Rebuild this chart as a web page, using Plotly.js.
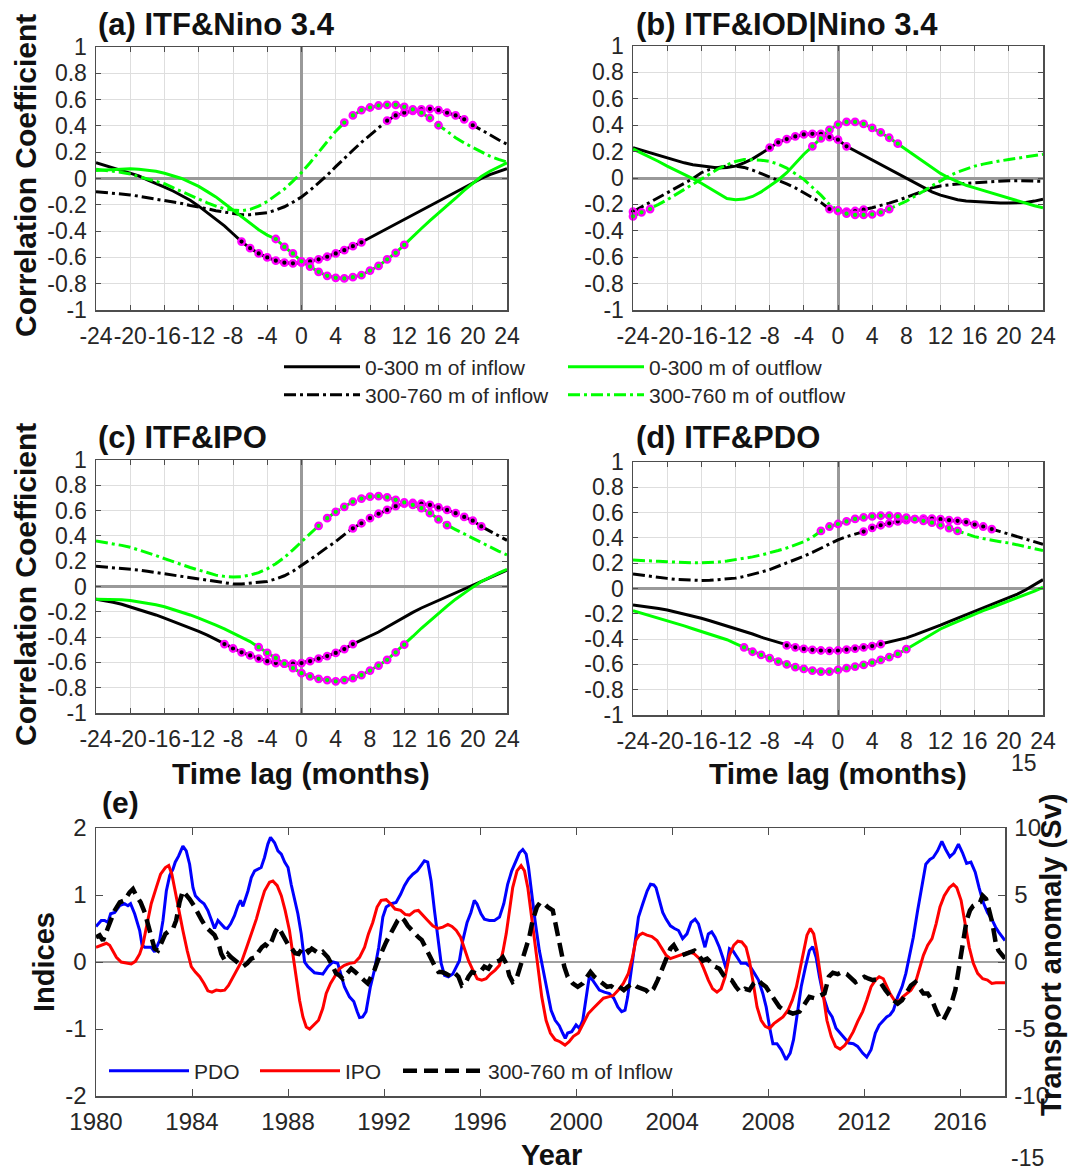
<!DOCTYPE html>
<html><head><meta charset="utf-8">
<script src="https://cdn.plot.ly/plotly-3.0.1.min.js"></script>
<style>html,body{margin:0;padding:0;background:#fff}#chart{width:1070px;height:1174px}</style>
</head><body><div id="chart"></div>
<script>
// ---------- DATA ----------
const lags = [-24,-23,-22,-21,-20,-19,-18,-17,-16,-15,-14,-13,-12,-11,-10,-9,-8,-7,-6,-5,-4,-3,-2,-1,0,1,2,3,4,5,6,7,8,9,10,11,12,13,14,15,16,17,18,19,20,21,22,23,24];
const lagTickVals = [-24,-20,-16,-12,-8,-4,0,4,8,12,16,20,24];
const lagTickText = ['-24','-20','-16','-12','-8','-4','0','4','8','12','16','20','24'];
const corrTickVals = [-1,-0.8,-0.6,-0.4,-0.2,0,0.2,0.4,0.6,0.8,1];
const corrTickText = ['-1','-0.8','-0.6','-0.4','-0.2','0','0.2','0.4','0.6','0.8','1'];
const seriesNames = ['0-300 m of inflow','300-760 m of inflow','0-300 m of outflow','300-760 m of outflow'];
const panelTitles = ['(a) ITF&Nino 3.4','(b) ITF&IOD|Nino 3.4','(c) ITF&IPO','(d) ITF&PDO','(e)'];

// (a) ITF & Nino 3.4
const a_in0 = [0.12,0.10,0.085,0.065,0.04,0.02,-0.01,-0.035,-0.065,-0.095,-0.13,-0.165,-0.21,-0.26,-0.31,-0.36,-0.42,-0.48,-0.53,-0.57,-0.60,-0.625,-0.64,-0.645,-0.64,-0.63,-0.615,-0.595,-0.57,-0.545,-0.515,-0.485,-0.45,-0.42,-0.38,-0.345,-0.31,-0.28,-0.245,-0.21,-0.175,-0.14,-0.105,-0.07,-0.035,0.0,0.03,0.055,0.075];
const a_out0 = [0.06,0.065,0.07,0.075,0.075,0.07,0.065,0.055,0.04,0.02,0.0,-0.03,-0.06,-0.10,-0.14,-0.19,-0.24,-0.29,-0.34,-0.39,-0.43,-0.46,-0.52,-0.57,-0.63,-0.67,-0.71,-0.74,-0.755,-0.76,-0.75,-0.735,-0.70,-0.665,-0.615,-0.565,-0.505,-0.44,-0.38,-0.32,-0.265,-0.205,-0.15,-0.09,-0.035,0.015,0.055,0.09,0.12];
const a_in3 = [-0.10,-0.105,-0.11,-0.12,-0.125,-0.135,-0.145,-0.155,-0.165,-0.18,-0.19,-0.205,-0.215,-0.23,-0.245,-0.255,-0.265,-0.275,-0.275,-0.27,-0.26,-0.24,-0.215,-0.18,-0.14,-0.09,-0.035,0.025,0.09,0.155,0.215,0.275,0.33,0.385,0.44,0.48,0.50,0.515,0.525,0.53,0.52,0.50,0.48,0.45,0.405,0.37,0.33,0.295,0.26];
const a_out3 = [0.07,0.065,0.055,0.045,0.035,0.015,-0.005,-0.025,-0.04,-0.07,-0.10,-0.13,-0.155,-0.185,-0.21,-0.23,-0.24,-0.245,-0.235,-0.21,-0.175,-0.13,-0.08,-0.02,0.045,0.12,0.20,0.28,0.36,0.425,0.48,0.52,0.54,0.555,0.56,0.56,0.545,0.525,0.50,0.46,0.405,0.36,0.31,0.27,0.235,0.20,0.17,0.145,0.125];
const sig_a_in0 = [[-7,7]], sig_a_out0 = [[-3,12]], sig_a_in3 = [[10,20]], sig_a_out3 = [[5,16]];

// (b) ITF & IOD | Nino 3.4
const b_in0 = [0.23,0.21,0.19,0.17,0.155,0.135,0.115,0.10,0.09,0.08,0.075,0.08,0.09,0.115,0.145,0.185,0.23,0.27,0.295,0.315,0.33,0.335,0.335,0.31,0.29,0.24,0.205,0.17,0.135,0.10,0.065,0.03,-0.005,-0.04,-0.075,-0.105,-0.13,-0.15,-0.165,-0.175,-0.18,-0.185,-0.19,-0.19,-0.19,-0.19,-0.185,-0.175,-0.16];
const b_out0 = [0.22,0.19,0.16,0.125,0.09,0.06,0.03,-0.005,-0.04,-0.08,-0.12,-0.155,-0.165,-0.16,-0.14,-0.105,-0.06,-0.015,0.04,0.11,0.18,0.24,0.30,0.365,0.405,0.425,0.425,0.41,0.38,0.345,0.305,0.26,0.215,0.165,0.12,0.075,0.035,0.0,-0.03,-0.055,-0.075,-0.095,-0.11,-0.13,-0.15,-0.17,-0.19,-0.21,-0.225];
const b_in3 = [-0.255,-0.22,-0.185,-0.15,-0.115,-0.075,-0.04,-0.005,0.04,0.065,0.08,0.09,0.09,0.08,0.06,0.035,0.01,-0.015,-0.045,-0.075,-0.11,-0.145,-0.185,-0.235,-0.25,-0.255,-0.25,-0.24,-0.225,-0.21,-0.19,-0.17,-0.145,-0.12,-0.095,-0.075,-0.06,-0.05,-0.045,-0.04,-0.035,-0.03,-0.025,-0.02,-0.02,-0.02,-0.02,-0.02,-0.025];
const b_out3 = [-0.29,-0.26,-0.235,-0.20,-0.165,-0.125,-0.085,-0.045,-0.005,0.035,0.07,0.10,0.125,0.14,0.14,0.135,0.125,0.105,0.075,0.035,-0.01,-0.07,-0.13,-0.20,-0.245,-0.27,-0.28,-0.28,-0.275,-0.26,-0.235,-0.205,-0.175,-0.14,-0.10,-0.06,-0.02,0.015,0.045,0.07,0.09,0.105,0.12,0.13,0.14,0.15,0.16,0.17,0.18];
const sig_b_in0 = [[-8,1]], sig_b_out0 = [[-3,7]], sig_b_in3 = [[-24,-24],[-1,3]], sig_b_out3 = [[-24,-22],[0,6]];

// (c) ITF & IPO
const c_in0 = [-0.10,-0.11,-0.125,-0.14,-0.16,-0.18,-0.20,-0.225,-0.25,-0.275,-0.30,-0.33,-0.355,-0.385,-0.42,-0.455,-0.49,-0.52,-0.545,-0.57,-0.59,-0.605,-0.61,-0.61,-0.605,-0.59,-0.57,-0.55,-0.525,-0.495,-0.455,-0.425,-0.395,-0.36,-0.32,-0.28,-0.24,-0.205,-0.17,-0.14,-0.105,-0.075,-0.045,-0.015,0.01,0.04,0.07,0.10,0.13];
const c_out0 = [-0.10,-0.10,-0.10,-0.105,-0.11,-0.12,-0.13,-0.145,-0.16,-0.18,-0.20,-0.225,-0.25,-0.275,-0.305,-0.335,-0.37,-0.40,-0.435,-0.48,-0.525,-0.565,-0.61,-0.645,-0.685,-0.71,-0.73,-0.74,-0.75,-0.74,-0.725,-0.70,-0.665,-0.625,-0.58,-0.52,-0.46,-0.395,-0.33,-0.27,-0.21,-0.155,-0.10,-0.05,-0.005,0.04,0.075,0.105,0.135];
const c_in3 = [0.16,0.155,0.15,0.145,0.14,0.13,0.12,0.11,0.10,0.09,0.08,0.065,0.055,0.045,0.035,0.025,0.02,0.02,0.025,0.03,0.04,0.06,0.085,0.12,0.165,0.21,0.26,0.31,0.355,0.41,0.46,0.50,0.54,0.575,0.605,0.635,0.655,0.66,0.655,0.645,0.625,0.605,0.58,0.55,0.52,0.475,0.44,0.40,0.365];
const c_out3 = [0.36,0.35,0.34,0.325,0.31,0.29,0.27,0.245,0.22,0.195,0.175,0.15,0.13,0.11,0.09,0.08,0.075,0.078,0.09,0.11,0.14,0.18,0.23,0.29,0.355,0.42,0.48,0.54,0.59,0.63,0.67,0.695,0.71,0.715,0.705,0.685,0.665,0.645,0.62,0.58,0.53,0.485,0.45,0.415,0.38,0.345,0.31,0.28,0.25];
const sig_c_in0 = [[-9,6]], sig_c_out0 = [[-5,12]], sig_c_in3 = [[6,21]], sig_c_out3 = [[2,17]];

// (d) ITF & PDO
const d_in0 = [-0.13,-0.138,-0.147,-0.158,-0.17,-0.185,-0.20,-0.218,-0.235,-0.255,-0.275,-0.295,-0.315,-0.34,-0.36,-0.385,-0.405,-0.43,-0.45,-0.465,-0.478,-0.485,-0.49,-0.493,-0.49,-0.483,-0.475,-0.465,-0.455,-0.44,-0.425,-0.408,-0.39,-0.367,-0.343,-0.318,-0.29,-0.262,-0.235,-0.207,-0.18,-0.155,-0.128,-0.10,-0.075,-0.045,-0.01,0.03,0.07];
const d_out0 = [-0.175,-0.195,-0.215,-0.232,-0.25,-0.272,-0.295,-0.318,-0.34,-0.362,-0.385,-0.405,-0.435,-0.465,-0.50,-0.525,-0.55,-0.578,-0.60,-0.622,-0.636,-0.649,-0.657,-0.657,-0.644,-0.63,-0.617,-0.604,-0.586,-0.565,-0.543,-0.517,-0.48,-0.44,-0.40,-0.36,-0.32,-0.29,-0.26,-0.23,-0.20,-0.175,-0.15,-0.125,-0.10,-0.075,-0.05,-0.02,0.01];
const d_in3 = [0.115,0.105,0.095,0.088,0.08,0.072,0.067,0.063,0.063,0.065,0.07,0.075,0.082,0.095,0.11,0.13,0.15,0.175,0.20,0.228,0.255,0.285,0.32,0.355,0.385,0.41,0.43,0.45,0.48,0.50,0.515,0.53,0.54,0.548,0.552,0.552,0.548,0.54,0.535,0.525,0.505,0.49,0.47,0.45,0.43,0.41,0.39,0.37,0.35];
const d_out3 = [0.225,0.22,0.218,0.215,0.212,0.208,0.205,0.203,0.203,0.205,0.21,0.218,0.227,0.24,0.25,0.265,0.28,0.30,0.32,0.345,0.37,0.405,0.455,0.49,0.51,0.53,0.55,0.562,0.57,0.575,0.575,0.57,0.56,0.548,0.535,0.52,0.50,0.478,0.455,0.43,0.41,0.395,0.38,0.37,0.36,0.345,0.33,0.315,0.30];
const sig_d_in0 = [[-6,5]], sig_d_out0 = [[-11,8]], sig_d_in3 = [[3,18]], sig_d_out3 = [[-2,14]];

// (e) time series
const yearTickVals = [1980,1984,1988,1992,1996,2000,2004,2008,2012,2016];
const idxTickVals = [-2,-1,0,1,2];
const idxTickText = ['-2','-1','0','1','2'];
const svTickVals = [-10,-5,0,5,10];
const svTickText = ['-10','-5','0','5','10'];

const pdoYear = [1980.0,1980.22,1980.36,1980.5,1980.61,1980.78,1980.99,1981.19,1981.33,1981.44,1981.61,1981.82,1981.92,1982.03,1982.3,1982.44,1982.65,1982.79,1982.93,1983.07,1983.21,1983.3,1983.44,1983.62,1983.76,1983.9,1984.04,1984.14,1984.32,1984.5,1984.66,1984.83,1984.94,1985.08,1985.36,1985.47,1985.61,1985.77,1985.91,1986.02,1986.12,1986.33,1986.47,1986.61,1986.74,1986.88,1987.02,1987.16,1987.27,1987.44,1987.58,1987.72,1987.86,1988.0,1988.13,1988.27,1988.41,1988.55,1988.69,1988.83,1988.97,1989.1,1989.31,1989.45,1989.66,1989.87,1990.07,1990.35,1990.56,1990.74,1990.88,1990.98,1991.11,1991.25,1991.43,1991.6,1991.78,1991.95,1992.09,1992.3,1992.5,1992.69,1992.85,1993.02,1993.2,1993.38,1993.54,1993.68,1993.82,1993.96,1994.1,1994.24,1994.38,1994.52,1994.68,1994.86,1995.14,1995.28,1995.46,1995.62,1995.76,1995.87,1996.04,1996.18,1996.39,1996.6,1996.81,1996.99,1997.15,1997.32,1997.5,1997.64,1997.78,1997.92,1998.02,1998.16,1998.29,1998.47,1998.61,1998.79,1998.96,1999.13,1999.3,1999.44,1999.55,1999.65,1999.82,2000.0,2000.14,2000.28,2000.41,2000.55,2000.69,2000.83,2000.97,2001.18,2001.39,2001.57,2001.74,2001.9,2002.04,2002.15,2002.32,2002.46,2002.6,2002.78,2002.96,2003.1,2003.24,2003.33,2003.47,2003.61,2003.75,2003.93,2004.1,2004.27,2004.44,2004.62,2004.79,2004.96,2005.1,2005.24,2005.37,2005.51,2005.65,2005.79,2005.97,2006.11,2006.25,2006.39,2006.53,2006.71,2006.87,2007.08,2007.26,2007.43,2007.6,2007.78,2007.92,2008.06,2008.2,2008.37,2008.55,2008.75,2008.92,2009.06,2009.2,2009.38,2009.56,2009.72,2009.86,2010.0,2010.14,2010.31,2010.49,2010.67,2010.83,2011.0,2011.18,2011.36,2011.55,2011.73,2011.94,2012.11,2012.29,2012.47,2012.63,2012.8,2012.94,2013.08,2013.22,2013.4,2013.58,2013.74,2013.88,2014.05,2014.23,2014.41,2014.57,2014.74,2014.88,2015.06,2015.24,2015.4,2015.57,2015.75,2015.93,2016.1,2016.27,2016.45,2016.63,2016.79,2016.96,2017.14,2017.32,2017.48,2017.6,2017.87];
const pdoVal = [0.53,0.62,0.62,0.59,0.72,0.74,0.84,0.87,0.84,0.87,0.72,0.47,0.25,0.22,0.22,0.15,0.32,0.62,1.06,1.29,1.39,1.49,1.58,1.73,1.66,1.46,1.11,0.99,0.92,0.87,0.77,0.59,0.50,0.62,0.51,0.50,0.57,0.69,0.84,0.92,0.83,1.06,1.26,1.36,1.39,1.41,1.56,1.76,1.86,1.78,1.66,1.61,1.49,1.41,1.16,0.92,0.72,0.42,0.0,-0.07,-0.12,-0.16,-0.17,-0.18,-0.07,0.0,-0.02,-0.37,-0.52,-0.59,-0.74,-0.83,-0.82,-0.74,-0.37,-0.12,0.22,0.67,0.82,0.87,0.89,1.01,1.14,1.24,1.31,1.36,1.44,1.51,1.49,1.21,0.77,0.37,-0.02,-0.2,-0.22,-0.18,0.02,0.32,0.59,0.74,0.92,0.87,0.72,0.64,0.62,0.62,0.67,0.87,1.16,1.36,1.51,1.63,1.68,1.61,1.41,0.97,0.62,0.17,-0.07,-0.42,-0.72,-0.87,-0.95,-1.06,-1.14,-1.06,-1.04,-0.94,-0.99,-0.87,-0.57,-0.22,-0.27,-0.35,-0.42,-0.45,-0.47,-0.54,-0.67,-0.74,-0.72,-0.52,-0.07,0.32,0.67,0.87,1.06,1.16,1.15,1.11,0.92,0.74,0.64,0.54,0.50,0.47,0.35,0.42,0.59,0.64,0.57,0.37,0.22,0.42,0.45,0.37,0.22,0.07,-0.1,0.2,0.17,0.07,-0.02,-0.02,-0.07,-0.17,-0.27,-0.47,-0.67,-0.97,-1.22,-1.22,-1.31,-1.46,-1.36,-1.16,-0.82,-0.37,-0.07,0.17,0.23,0.07,-0.22,-0.52,-0.72,-0.82,-0.99,-1.06,-1.14,-1.21,-1.22,-1.26,-1.36,-1.42,-1.31,-1.06,-0.94,-0.87,-0.82,-0.79,-0.72,-0.52,-0.37,-0.17,0.07,0.37,0.77,1.16,1.46,1.53,1.56,1.66,1.80,1.68,1.57,1.63,1.76,1.63,1.47,1.49,1.34,1.11,0.89,0.74,0.64,0.52,0.45,0.32];

const ipoYear = [1980.0,1980.22,1980.43,1980.57,1980.71,1980.85,1981.05,1981.26,1981.47,1981.64,1981.82,1981.96,1982.14,1982.3,1982.51,1982.69,1982.89,1983.03,1983.16,1983.3,1983.44,1983.62,1983.8,1983.97,1984.14,1984.32,1984.5,1984.66,1984.83,1985.01,1985.19,1985.36,1985.52,1985.7,1985.88,1986.08,1986.26,1986.47,1986.68,1986.86,1987.02,1987.23,1987.37,1987.55,1987.72,1987.88,1988.06,1988.2,1988.34,1988.48,1988.62,1988.76,1988.9,1989.08,1989.27,1989.45,1989.59,1989.77,1989.96,1990.14,1990.35,1990.56,1990.77,1990.98,1991.19,1991.35,1991.53,1991.71,1991.88,1992.09,1992.27,1992.46,1992.69,1992.88,1993.06,1993.27,1993.43,1993.62,1993.82,1994.03,1994.24,1994.45,1994.66,1994.83,1995.01,1995.19,1995.35,1995.52,1995.7,1995.88,1996.07,1996.25,1996.43,1996.63,1996.81,1996.95,1997.09,1997.22,1997.36,1997.54,1997.71,1997.85,1997.99,1998.13,1998.31,1998.45,1998.57,1998.75,1998.93,1999.13,1999.33,1999.54,1999.71,1999.89,2000.1,2000.3,2000.51,2000.72,2000.93,2001.14,2001.35,2001.55,2001.76,2001.97,2002.18,2002.35,2002.49,2002.63,2002.77,2002.95,2003.16,2003.37,2003.58,2003.75,2003.93,2004.1,2004.3,2004.51,2004.72,2004.93,2005.14,2005.32,2005.51,2005.69,2005.87,2006.04,2006.21,2006.39,2006.57,2006.74,2006.9,2007.08,2007.22,2007.36,2007.54,2007.71,2007.88,2008.06,2008.24,2008.43,2008.62,2008.83,2009.01,2009.18,2009.34,2009.48,2009.62,2009.76,2009.9,2010.04,2010.18,2010.31,2010.45,2010.63,2010.81,2011.0,2011.18,2011.36,2011.55,2011.73,2011.94,2012.11,2012.29,2012.47,2012.63,2012.8,2012.94,2013.08,2013.26,2013.44,2013.61,2013.77,2013.95,2014.13,2014.3,2014.47,2014.65,2014.83,2015.0,2015.16,2015.34,2015.55,2015.72,2015.86,2016.04,2016.22,2016.38,2016.55,2016.73,2016.94,2017.14,2017.32,2017.49,2017.87];
const ipoVal = [0.22,0.25,0.28,0.25,0.15,0.07,0.0,-0.01,-0.03,0.01,0.12,0.27,0.57,0.87,1.11,1.31,1.41,1.44,1.31,1.04,0.77,0.47,0.17,-0.07,-0.15,-0.22,-0.32,-0.43,-0.45,-0.42,-0.43,-0.42,-0.35,-0.23,-0.1,0.02,0.2,0.42,0.64,0.87,1.06,1.19,1.21,1.14,0.99,0.77,0.47,0.12,-0.22,-0.57,-0.82,-0.97,-1.0,-0.94,-0.87,-0.69,-0.47,-0.32,-0.2,-0.1,-0.05,-0.02,-0.01,0.07,0.22,0.42,0.59,0.82,0.92,0.93,0.87,0.79,0.77,0.71,0.70,0.76,0.77,0.69,0.62,0.54,0.50,0.52,0.56,0.53,0.47,0.37,0.20,0.02,-0.12,-0.25,-0.27,-0.25,-0.18,-0.12,-0.05,0.15,0.42,0.77,1.11,1.36,1.44,1.36,1.11,0.72,0.22,-0.15,-0.52,-0.87,-1.06,-1.16,-1.19,-1.24,-1.19,-1.11,-1.06,-0.92,-0.77,-0.69,-0.62,-0.54,-0.52,-0.5,-0.42,-0.32,-0.17,0.07,0.32,0.4,0.43,0.4,0.38,0.32,0.2,0.1,0.05,0.07,0.1,0.12,0.15,0.12,0.05,-0.1,-0.27,-0.4,-0.45,-0.4,-0.22,0.1,0.25,0.31,0.3,0.22,0.02,-0.27,-0.67,-0.87,-0.96,-0.99,-0.92,-0.87,-0.82,-0.72,-0.57,-0.37,-0.1,0.17,0.4,0.5,0.42,0.15,-0.22,-0.57,-0.87,-1.11,-1.26,-1.3,-1.25,-1.16,-1.04,-0.89,-0.74,-0.57,-0.37,-0.27,-0.22,-0.25,-0.37,-0.47,-0.57,-0.59,-0.52,-0.47,-0.42,-0.32,-0.12,0.1,0.25,0.35,0.57,0.82,0.99,1.11,1.16,1.11,0.92,0.57,0.22,-0.02,-0.17,-0.25,-0.27,-0.32,-0.31,-0.31];

const itfYear = [1980.0,1980.15,1980.29,1980.57,1980.78,1980.99,1981.19,1981.4,1981.54,1981.68,1981.86,1982.03,1982.16,1982.33,1982.44,1982.58,1982.72,1982.89,1983.07,1983.21,1983.34,1983.48,1983.62,1983.76,1983.9,1984.08,1984.25,1984.41,1984.59,1984.77,1984.94,1985.11,1985.22,1985.36,1985.5,1985.63,1985.8,1985.98,1986.12,1986.3,1986.47,1986.63,1986.77,1986.91,1987.05,1987.19,1987.33,1987.47,1987.6,1987.74,1987.88,1988.02,1988.16,1988.3,1988.44,1988.58,1988.72,1988.85,1988.99,1989.13,1989.31,1989.45,1989.66,1989.87,1990.0,1990.14,1990.28,1990.46,1990.63,1990.8,1990.98,1991.16,1991.32,1991.46,1991.6,1991.74,1991.91,1992.09,1992.27,1992.44,1992.57,1992.71,1992.85,1992.99,1993.16,1993.3,1993.43,1993.57,1993.71,1993.85,1993.99,1994.13,1994.27,1994.41,1994.55,1994.68,1994.82,1994.96,1995.1,1995.24,1995.38,1995.52,1995.66,1995.84,1996.01,1996.18,1996.35,1996.49,1996.63,1996.81,1996.95,1997.09,1997.22,1997.36,1997.5,1997.64,1997.78,1997.92,1998.05,1998.19,1998.37,1998.51,1998.68,1998.82,1999.03,1999.23,1999.37,1999.51,1999.65,1999.86,2000.07,2000.28,2000.46,2000.6,2000.76,2000.93,2001.11,2001.29,2001.46,2001.62,2001.8,2001.99,2002.15,2002.36,2002.54,2002.73,2002.91,2003.05,2003.23,2003.4,2003.57,2003.75,2003.93,2004.07,2004.23,2004.4,2004.58,2004.76,2004.93,2005.1,2005.28,2005.46,2005.62,2005.79,2005.97,2006.15,2006.32,2006.48,2006.66,2006.84,2007.04,2007.22,2007.4,2007.57,2007.73,2007.91,2008.09,2008.29,2008.47,2008.67,2009.03,2009.31,2009.52,2009.72,2009.93,2010.15,2010.35,2010.53,2010.7,2010.9,2011.08,2011.28,2011.46,2011.64,2011.83,2012.01,2012.19,2012.36,2012.53,2012.71,2012.89,2013.06,2013.22,2013.4,2013.58,2013.75,2013.95,2014.13,2014.3,2014.47,2014.65,2014.83,2015.0,2015.16,2015.3,2015.44,2015.62,2015.8,2015.97,2016.13,2016.27,2016.41,2016.55,2016.69,2016.83,2016.94,2017.08,2017.21,2017.35,2017.49,2017.6,2017.87];
const itfSv = [1.85,2.0,1.6,2.85,3.85,4.45,4.6,5.2,5.45,4.95,4.45,3.7,2.85,1.6,1.0,0.85,1.35,2.1,2.35,2.5,3.1,4.45,5.3,5.05,4.7,4.2,3.6,3.1,2.6,2.25,2.0,1.35,0.6,0.15,0.6,0.35,0.05,-0.15,-0.35,-0.1,0.25,0.35,0.75,1.1,1.3,1.1,1.6,2.25,2.6,2.1,1.6,1.25,1.0,0.65,0.6,1.0,1.1,0.75,1.0,0.85,0.6,0.75,0.35,-0.35,-0.85,-1.0,-1.25,-0.85,-0.5,-0.75,-1.1,-1.35,-1.6,-1.1,-0.6,0.1,0.85,1.5,2.1,2.6,3.1,3.35,3.1,2.7,2.35,2.0,1.85,1.65,1.1,0.6,0.1,-0.35,-0.75,-0.75,-0.85,-1.0,-1.1,-0.85,-1.1,-1.75,-1.6,-1.1,-0.75,-0.85,-0.75,-0.35,-0.5,-0.1,0.0,0.1,0.35,-0.1,-1.0,-1.5,-1.35,-0.6,0.25,1.1,1.85,3.1,4.1,4.45,4.35,4.1,3.85,2.1,0.85,-0.35,-1.1,-1.6,-1.85,-1.6,-1.1,-0.75,-1.1,-1.35,-1.6,-1.85,-1.8,-2.0,-1.85,-2.1,-1.85,-1.6,-1.85,-2.0,-2.1,-2.35,-2.0,-1.35,-0.6,0.1,1.0,1.25,0.75,0.5,0.6,0.75,0.85,0.5,0.1,0.25,-0.1,-0.35,-0.5,-1.0,-1.25,-1.35,-1.85,-2.25,-2.0,-2.1,-1.6,-1.35,-1.6,-1.85,-2.35,-2.85,-3.35,-3.6,-3.85,-3.7,-3.2,-2.6,-2.7,-2.5,-2.35,-1.1,-0.8,-0.9,-0.75,-0.9,-1.25,-1.5,-1.3,-1.1,-1.25,-1.35,-1.3,-1.6,-2.1,-2.5,-2.85,-3.1,-2.85,-2.35,-1.75,-1.5,-2.0,-2.35,-2.35,-2.85,-3.6,-4.2,-4.35,-3.85,-3.2,-2.1,-0.35,1.6,3.1,3.85,4.2,4.35,4.45,4.95,4.7,3.85,2.85,1.35,0.85,0.25];

// ---------- STYLE / LAYOUT ----------
const FONT = 'Liberation Sans, Arial, Helvetica, sans-serif';
const W = 1070, H = 1174;
const X = v => v / W, Y = v => 1 - v / H;
const BLACK = '#000000', GREEN = '#00FF00', MAG = '#FF00FF';
const DASHDOT = '12px,4px,3px,4px';

function inRanges(l, ranges) { return ranges.some(r => l >= r[0] && l <= r[1]); }

const traces = [];
function addPanel(idx, ins0, ins3, outs0, outs3, sigs, showLeg) {
  const xa = 'x' + (idx === 1 ? '' : idx), ya = 'y' + (idx === 1 ? '' : idx);
  const defs = [
    {y: ins0, name: seriesNames[0], color: BLACK, dash: 'solid', leg: 'legend', sig: sigs[0]},
    {y: ins3, name: seriesNames[1], color: BLACK, dash: DASHDOT, leg: 'legend3', sig: sigs[1]},
    {y: outs0, name: seriesNames[2], color: GREEN, dash: 'solid', leg: 'legend2', sig: sigs[2]},
    {y: outs3, name: seriesNames[3], color: GREEN, dash: DASHDOT, leg: 'legend4', sig: sigs[3]}
  ];
  const order = [1, 0, 3, 2];
  order.forEach(k => {
    const d = defs[k];
    traces.push({x: lags, y: d.y, xaxis: xa, yaxis: ya, type: 'scatter', mode: 'lines',
      name: d.name, legend: d.leg, showlegend: showLeg,
      line: {color: d.color, width: 3, dash: d.dash}, hoverinfo: 'skip'});
  });
  defs.forEach(d => {
    const mx = [], my = [];
    lags.forEach((l, i) => { if (inRanges(l, d.sig)) { mx.push(l); my.push(d.y[i]); } });
    traces.push({x: mx, y: my, xaxis: xa, yaxis: ya, type: 'scatter', mode: 'markers',
      showlegend: false, cliponaxis: false, hoverinfo: 'skip',
      marker: {symbol: 'circle', size: 6.5, color: d.color, line: {color: MAG, width: 2.3}}});
  });
}
addPanel(1, a_in0, a_in3, a_out0, a_out3, [sig_a_in0, sig_a_in3, sig_a_out0, sig_a_out3], true);
addPanel(2, b_in0, b_in3, b_out0, b_out3, [sig_b_in0, sig_b_in3, sig_b_out0, sig_b_out3], false);
addPanel(3, c_in0, c_in3, c_out0, c_out3, [sig_c_in0, sig_c_in3, sig_c_out0, sig_c_out3], false);
addPanel(4, d_in0, d_in3, d_out0, d_out3, [sig_d_in0, sig_d_in3, sig_d_out0, sig_d_out3], false);

traces.push({x: pdoYear, y: pdoVal, xaxis: 'x5', yaxis: 'y5', type: 'scatter', mode: 'lines', name: 'PDO',
  legend: 'legend5', line: {color: '#0000FF', width: 3}, hoverinfo: 'skip'});
traces.push({x: ipoYear, y: ipoVal, xaxis: 'x5', yaxis: 'y5', type: 'scatter', mode: 'lines', name: 'IPO',
  legend: 'legend6', line: {color: '#FF0000', width: 3}, hoverinfo: 'skip'});
traces.push({x: itfYear, y: itfSv, xaxis: 'x5', yaxis: 'y6', type: 'scatter', mode: 'lines', name: '300-760 m of Inflow',
  legend: 'legend7', line: {color: '#000000', width: 4.5, dash: '14px,7px'}, hoverinfo: 'skip'});

const AXC = '#4d4d4d', TXT = '#262626';
const tickFont = {family: FONT, size: 23, color: TXT};
const tickFontE = {family: FONT, size: 24, color: TXT};
function lagX(dom, anchor) {
  return {domain: dom, anchor: anchor, range: [-24, 24], tickmode: 'array', tickvals: lagTickVals, ticktext: lagTickText,
    tickangle: 0, showgrid: true, gridcolor: '#dedede', gridwidth: 1, zeroline: true, zerolinecolor: '#999999', zerolinewidth: 3,
    showline: true, linecolor: AXC, linewidth: 1.5, mirror: 'ticks', ticks: 'inside', ticklen: 5, tickcolor: AXC,
    tickfont: tickFont, ticklabelstandoff: 5, fixedrange: true};
}
function corrY(dom, anchor) {
  return {domain: dom, anchor: anchor, range: [-1, 1], tickmode: 'array', tickvals: corrTickVals, ticktext: corrTickText,
    tickangle: 0, showgrid: true, gridcolor: '#dedede', gridwidth: 1, zeroline: true, zerolinecolor: '#999999', zerolinewidth: 3,
    showline: true, linecolor: AXC, linewidth: 1.5, mirror: 'ticks', ticks: 'inside', ticklen: 5, tickcolor: AXC,
    tickfont: tickFont, ticklabelstandoff: 3, fixedrange: true};
}
function leg(xpx, ypx, size, iw) {
  return {x: X(xpx), y: Y(ypx), xanchor: 'left', yanchor: 'middle', orientation: 'v', bgcolor: 'rgba(0,0,0,0)',
    font: {family: FONT, size: size, color: TXT}, itemwidth: iw, tracegroupgap: 0};
}

const bold = (s) => ({family: FONT, size: s, color: '#111111', weight: 'bold'});
function ann(text, x, y, opts) {
  return Object.assign({text: text, x: X(x), y: Y(y), xref: 'paper', yref: 'paper', showarrow: false,
    xanchor: 'center', yanchor: 'middle', font: bold(30)}, opts || {});
}

const layout = {
  width: W, height: H, margin: {l: 0, r: 0, t: 0, b: 0}, paper_bgcolor: '#ffffff', plot_bgcolor: '#ffffff',
  font: {family: FONT, color: TXT},
  xaxis: lagX([X(96), X(507)], 'y'), yaxis: corrY([Y(310), Y(47)], 'x'),
  xaxis2: lagX([X(633), X(1043)], 'y2'), yaxis2: corrY([Y(310), Y(46)], 'x2'),
  xaxis3: lagX([X(96), X(507)], 'y3'), yaxis3: corrY([Y(713), Y(460)], 'x3'),
  xaxis4: lagX([X(633), X(1043)], 'y4'), yaxis4: corrY([Y(715), Y(462)], 'x4'),
  xaxis5: {domain: [X(96), X(1005)], anchor: 'y5', range: [1980, 2017.87], tickmode: 'array', tickvals: yearTickVals,
    tickangle: 0, showgrid: false, zeroline: false, showline: true, linecolor: AXC, linewidth: 1.5, mirror: 'ticks', ticks: 'inside',
    ticklen: 7, tickcolor: AXC, tickfont: tickFontE, ticklabelstandoff: 4, fixedrange: true},
  yaxis5: {domain: [Y(1096), Y(828)], anchor: 'x5', range: [-2, 2], tickmode: 'array', tickvals: idxTickVals, ticktext: idxTickText,
    showgrid: false, zeroline: true, zerolinecolor: '#a0a0a0', zerolinewidth: 1.5, showline: true, linecolor: AXC, linewidth: 1.5,
    ticks: 'inside', ticklen: 7, tickcolor: AXC, tickfont: tickFontE, ticklabelstandoff: 3, fixedrange: true},
  yaxis6: {overlaying: 'y5', anchor: 'x5', side: 'right', range: [-10, 10], tickmode: 'array', tickvals: svTickVals, ticktext: svTickText,
    showgrid: false, zeroline: false, showline: true, linecolor: AXC, linewidth: 1.5, ticks: 'inside', ticklen: 7, tickcolor: AXC,
    tickfont: tickFontE, ticklabelstandoff: 3, fixedrange: true},
  legend: leg(279, 367, 21, 76),
  legend2: leg(563, 367, 21, 76),
  legend3: leg(279, 395, 21, 76),
  legend4: leg(563, 395, 21, 76),
  legend5: leg(104, 1071, 21, 80),
  legend6: leg(255, 1071, 21, 80),
  legend7: leg(398, 1071, 21, 80),
  annotations: [
    ann(panelTitles[0], 96, 24, {xanchor: 'left', font: bold(31)}),
    ann(panelTitles[1], 634, 24, {xanchor: 'left', font: bold(31)}),
    ann(panelTitles[2], 96, 438, {xanchor: 'left', font: bold(31)}),
    ann(panelTitles[3], 634, 438, {xanchor: 'left', font: bold(31)}),
    ann(panelTitles[4], 100, 802, {xanchor: 'left', font: bold(30)}),
    ann('Correlation Coefficient', 25, 176, {textangle: -90}),
    ann('Correlation Coefficient', 25, 585, {textangle: -90}),
    ann('Time lag (months)', 301, 773),
    ann('Time lag (months)', 838, 773),
    ann('Indices', 44, 962, {textangle: -90, font: bold(29)}),
    ann('Transport anomaly (Sv)', 1051, 955, {textangle: -90, font: bold(29)}),
    ann('Year', 551, 1155, {font: bold(29)}),
    ann('15', 1009, 763, {xanchor: 'left', font: {family: FONT, size: 23, color: TXT}}),
    ann('-15', 1009, 1158, {xanchor: 'left', font: {family: FONT, size: 23, color: TXT}})
  ]
};

Plotly.newPlot('chart', traces, layout, {staticPlot: true, displayModeBar: false});
</script></body></html>
